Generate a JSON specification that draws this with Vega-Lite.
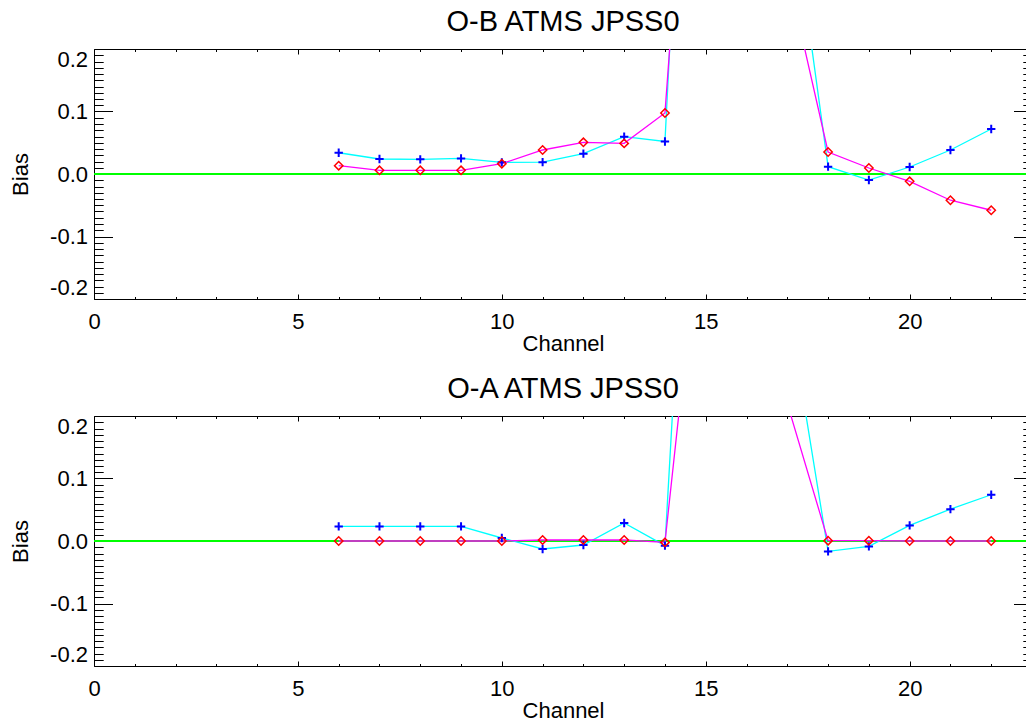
{
  "$schema": "https://vega.github.io/schema/vega-lite/v6.json",
  "background": "white",
  "padding": {"left": 9, "top": 7, "right": 0, "bottom": 0},
  "spacing": 20,
  "datasets": {
    "ob": [
      {"channel": 6, "bias1": 0.034, "bias2": 0.0133},
      {"channel": 7, "bias1": 0.024, "bias2": 0.0059},
      {"channel": 8, "bias1": 0.0235, "bias2": 0.0059},
      {"channel": 9, "bias1": 0.025, "bias2": 0.0059},
      {"channel": 10, "bias1": 0.0187, "bias2": 0.0165},
      {"channel": 11, "bias1": 0.019, "bias2": 0.0384},
      {"channel": 12, "bias1": 0.0325, "bias2": 0.0507},
      {"channel": 13, "bias1": 0.0597, "bias2": 0.049},
      {"channel": 14, "bias1": 0.052, "bias2": 0.0976},
      {"channel": 15, "bias1": 1.33, "bias2": 0.99},
      {"channel": 16, "bias1": 1.5, "bias2": 1.2},
      {"channel": 17, "bias1": 0.488, "bias2": 0.323},
      {"channel": 18, "bias1": 0.0117, "bias2": 0.0352},
      {"channel": 19, "bias1": -0.0096, "bias2": 0.0096},
      {"channel": 20, "bias1": 0.0112, "bias2": -0.0117},
      {"channel": 21, "bias1": 0.0384, "bias2": -0.042},
      {"channel": 22, "bias1": 0.072, "bias2": -0.058}
    ],
    "oa": [
      {"channel": 6, "bias1": 0.0234, "bias2": 0.0},
      {"channel": 7, "bias1": 0.0234, "bias2": 0.0},
      {"channel": 8, "bias1": 0.0234, "bias2": 0.0},
      {"channel": 9, "bias1": 0.0234, "bias2": 0.0},
      {"channel": 10, "bias1": 0.0048, "bias2": 0.0},
      {"channel": 11, "bias1": -0.0128, "bias2": 0.0016},
      {"channel": 12, "bias1": -0.0064, "bias2": 0.0016},
      {"channel": 13, "bias1": 0.0288, "bias2": 0.0016},
      {"channel": 14, "bias1": -0.0075, "bias2": -0.0022},
      {"channel": 15, "bias1": 1.14, "bias2": 0.6},
      {"channel": 16, "bias1": 1.3, "bias2": 0.8},
      {"channel": 17, "bias1": 0.385, "bias2": 0.22},
      {"channel": 18, "bias1": -0.0166, "bias2": 0.0005},
      {"channel": 19, "bias1": -0.0086, "bias2": 0.0005},
      {"channel": 20, "bias1": 0.025, "bias2": 0.0},
      {"channel": 21, "bias1": 0.051, "bias2": 0.0},
      {"channel": 22, "bias1": 0.074, "bias2": 0.0}
    ]
  },
  "config": {
    "view": {"stroke": null},
    "font": "Liberation Sans",
    "axis": {
      "grid": false,
      "domainColor": "black",
      "tickColor": "black",
      "labelColor": "black",
      "titleColor": "black",
      "labelFont": "Liberation Sans",
      "titleFont": "Liberation Sans",
      "titleFontWeight": "normal",
      "domainWidth": 1,
      "tickWidth": 1
    },
    "title": {
      "font": "Liberation Sans",
      "fontSize": 29,
      "fontWeight": "normal",
      "color": "black",
      "anchor": "middle",
      "baseline": "alphabetic",
      "offset": 11.5
    }
  },
  "vconcat": [
    {
      "title": "O-B ATMS JPSS0",
      "width": 938,
      "height": 250,
      "data": {"name": "ob"},
      "resolve": {"scale": {"x": "shared", "y": "shared"}, "axis": {"x": "independent", "y": "independent"}},
      "layer": [
        {
          "mark": {"type": "rule", "color": "#00FF00", "strokeWidth": 1.3},
          "encoding": {"y": {"datum": 0, "type": "quantitative", "axis": null}}
        },
        {
          "mark": {"type": "line", "color": "#00FFFF", "strokeWidth": 1.3, "clip": true},
          "encoding": {
            "x": {"field": "channel", "type": "quantitative", "scale": {"domain": [0, 23], "nice": false, "zero": false},
              "axis": {"orient": "bottom", "values": [0, 5, 10, 15, 20], "format": "d", "tickSize": -5, "labelPadding": 17, "labelFontSize": 22, "labelFlush": false, "title": "Channel", "titleFontSize": 22, "titlePadding": 1}},
            "y": {"field": "bias1", "type": "quantitative", "scale": {"domain": [-0.2, 0.2], "nice": false, "zero": false},
              "axis": {"orient": "left", "values": [-0.2, -0.1, 0, 0.1, 0.2], "labelExpr": "replace(format(datum.value, '.1f'), '\u2212', '-')", "tickSize": -18.5, "labelPadding": 25, "labelFontSize": 22, "labelFlush": true, "labelFlushOffset": 0, "title": "Bias", "titleFontSize": 22, "titlePadding": 17}}
          }
        },
        {
          "mark": {"type": "line", "color": "#FF00FF", "strokeWidth": 1.3, "clip": true},
          "encoding": {
            "x": {"field": "channel", "type": "quantitative",
              "axis": {"orient": "top", "values": [0, 5, 10, 15, 20], "tickSize": -5, "labels": false, "title": null}},
            "y": {"field": "bias2", "type": "quantitative",
              "axis": {"orient": "right", "values": [-0.2, -0.1, 0, 0.1, 0.2], "tickSize": -18.5, "labels": false, "title": null}}
          }
        },
        {
          "mark": {"type": "point", "shape": "M-1,0H1M0,-1V1", "size": 70, "color": "#0000FF", "strokeWidth": 2, "filled": false, "opacity": 1, "clip": true},
          "encoding": {
            "x": {"field": "channel", "type": "quantitative",
              "axis": {"orient": "bottom", "values": [1, 2, 3, 4, 6, 7, 8, 9, 11, 12, 13, 14, 16, 17, 18, 19, 21, 22], "tickSize": -2.5, "labels": false, "domain": false, "title": null}},
            "y": {"field": "bias1", "type": "quantitative",
              "axis": {"orient": "left", "values": [-0.19, -0.18, -0.17, -0.16, -0.15, -0.14, -0.13, -0.12, -0.11, -0.09, -0.08, -0.07, -0.06, -0.05, -0.04, -0.03, -0.02, -0.01, 0.01, 0.02, 0.03, 0.04, 0.05, 0.06, 0.07, 0.08, 0.09, 0.11, 0.12, 0.13, 0.14, 0.15, 0.16, 0.17, 0.18, 0.19], "tickSize": -9.2, "labels": false, "domain": false, "title": null}}
          }
        },
        {
          "mark": {"type": "point", "shape": "diamond", "size": 70, "color": "#FF0000", "strokeWidth": 1.5, "filled": false, "opacity": 1, "clip": true},
          "encoding": {
            "x": {"field": "channel", "type": "quantitative",
              "axis": {"orient": "top", "values": [1, 2, 3, 4, 6, 7, 8, 9, 11, 12, 13, 14, 16, 17, 18, 19, 21, 22], "tickSize": -2.5, "labels": false, "domain": false, "title": null}},
            "y": {"field": "bias2", "type": "quantitative",
              "axis": {"orient": "right", "values": [-0.19, -0.18, -0.17, -0.16, -0.15, -0.14, -0.13, -0.12, -0.11, -0.09, -0.08, -0.07, -0.06, -0.05, -0.04, -0.03, -0.02, -0.01, 0.01, 0.02, 0.03, 0.04, 0.05, 0.06, 0.07, 0.08, 0.09, 0.11, 0.12, 0.13, 0.14, 0.15, 0.16, 0.17, 0.18, 0.19], "tickSize": -9.2, "labels": false, "domain": false, "title": null}}
          }
        }
      ]
    },
    {
      "title": "O-A ATMS JPSS0",
      "width": 938,
      "height": 250,
      "data": {"name": "oa"},
      "resolve": {"scale": {"x": "shared", "y": "shared"}, "axis": {"x": "independent", "y": "independent"}},
      "layer": [
        {
          "mark": {"type": "rule", "color": "#00FF00", "strokeWidth": 1.3},
          "encoding": {"y": {"datum": 0, "type": "quantitative", "axis": null}}
        },
        {
          "mark": {"type": "line", "color": "#00FFFF", "strokeWidth": 1.3, "clip": true},
          "encoding": {
            "x": {"field": "channel", "type": "quantitative", "scale": {"domain": [0, 23], "nice": false, "zero": false},
              "axis": {"orient": "bottom", "values": [0, 5, 10, 15, 20], "format": "d", "tickSize": -5, "labelPadding": 17, "labelFontSize": 22, "labelFlush": false, "title": "Channel", "titleFontSize": 22, "titlePadding": 1}},
            "y": {"field": "bias1", "type": "quantitative", "scale": {"domain": [-0.2, 0.2], "nice": false, "zero": false},
              "axis": {"orient": "left", "values": [-0.2, -0.1, 0, 0.1, 0.2], "labelExpr": "replace(format(datum.value, '.1f'), '\u2212', '-')", "tickSize": -18.5, "labelPadding": 25, "labelFontSize": 22, "labelFlush": true, "labelFlushOffset": 0, "title": "Bias", "titleFontSize": 22, "titlePadding": 17}}
          }
        },
        {
          "mark": {"type": "line", "color": "#FF00FF", "strokeWidth": 1.3, "clip": true},
          "encoding": {
            "x": {"field": "channel", "type": "quantitative",
              "axis": {"orient": "top", "values": [0, 5, 10, 15, 20], "tickSize": -5, "labels": false, "title": null}},
            "y": {"field": "bias2", "type": "quantitative",
              "axis": {"orient": "right", "values": [-0.2, -0.1, 0, 0.1, 0.2], "tickSize": -18.5, "labels": false, "title": null}}
          }
        },
        {
          "mark": {"type": "point", "shape": "M-1,0H1M0,-1V1", "size": 70, "color": "#0000FF", "strokeWidth": 2, "filled": false, "opacity": 1, "clip": true},
          "encoding": {
            "x": {"field": "channel", "type": "quantitative",
              "axis": {"orient": "bottom", "values": [1, 2, 3, 4, 6, 7, 8, 9, 11, 12, 13, 14, 16, 17, 18, 19, 21, 22], "tickSize": -2.5, "labels": false, "domain": false, "title": null}},
            "y": {"field": "bias1", "type": "quantitative",
              "axis": {"orient": "left", "values": [-0.19, -0.18, -0.17, -0.16, -0.15, -0.14, -0.13, -0.12, -0.11, -0.09, -0.08, -0.07, -0.06, -0.05, -0.04, -0.03, -0.02, -0.01, 0.01, 0.02, 0.03, 0.04, 0.05, 0.06, 0.07, 0.08, 0.09, 0.11, 0.12, 0.13, 0.14, 0.15, 0.16, 0.17, 0.18, 0.19], "tickSize": -9.2, "labels": false, "domain": false, "title": null}}
          }
        },
        {
          "mark": {"type": "point", "shape": "diamond", "size": 70, "color": "#FF0000", "strokeWidth": 1.5, "filled": false, "opacity": 1, "clip": true},
          "encoding": {
            "x": {"field": "channel", "type": "quantitative",
              "axis": {"orient": "top", "values": [1, 2, 3, 4, 6, 7, 8, 9, 11, 12, 13, 14, 16, 17, 18, 19, 21, 22], "tickSize": -2.5, "labels": false, "domain": false, "title": null}},
            "y": {"field": "bias2", "type": "quantitative",
              "axis": {"orient": "right", "values": [-0.19, -0.18, -0.17, -0.16, -0.15, -0.14, -0.13, -0.12, -0.11, -0.09, -0.08, -0.07, -0.06, -0.05, -0.04, -0.03, -0.02, -0.01, 0.01, 0.02, 0.03, 0.04, 0.05, 0.06, 0.07, 0.08, 0.09, 0.11, 0.12, 0.13, 0.14, 0.15, 0.16, 0.17, 0.18, 0.19], "tickSize": -9.2, "labels": false, "domain": false, "title": null}}
          }
        }
      ]
    }
  ]
}
